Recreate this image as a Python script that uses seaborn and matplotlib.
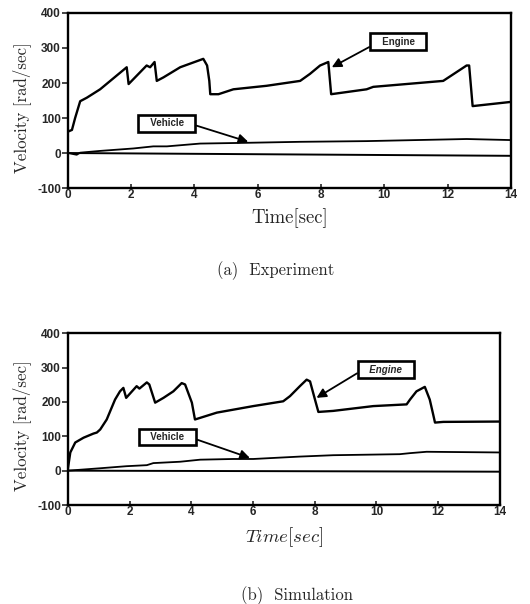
import matplotlib
matplotlib.use('Agg')
import matplotlib.pyplot as plt
import seaborn as sns
import pandas as pd

# (a) Experiment
exp_engine_t = [0, 0.13, 0.23, 0.39, 0.6, 1.02, 1.86, 1.92, 2.49, 2.6, 2.74, 2.81, 3.02, 3.55,
                4.28, 4.4, 4.47, 4.5, 4.76, 5.23, 6.28, 7.34, 7.65, 7.97, 8.23, 8.32, 9.44,
                9.65, 11.86, 12.6, 12.68, 12.79, 14]
exp_engine = [61, 66, 100, 148, 158, 182, 245, 197, 250, 245, 260, 206, 216, 245,
              269, 250, 206, 168, 168, 182, 192, 206, 226, 250, 260, 168, 182,
              189, 206, 250, 250, 134, 146]
exp_vehicle_t = [0, 0.28, 0.39, 1.02, 2.07, 2.7, 3.13, 4.18, 5.55, 7.34, 9.44, 12.6, 14]
exp_vehicle = [0, -5, 1, 6, 13, 19, 19, 27, 29, 32, 34, 40, 37]
exp_zero_t = [0, 14]
exp_zero = [0, -8]

# (b) Simulation
sim_engine_t = [0, 0.08, 0.24, 0.51, 0.83, 0.94, 1.05, 1.26, 1.53, 1.69, 1.8, 1.89, 2.23, 2.32,
                2.56, 2.64, 2.83, 3.1, 3.42, 3.69, 3.8, 4.02, 4.12, 4.83, 6.01, 6.98, 7.2,
                7.52, 7.74, 7.85, 8.01, 8.12, 8.6, 9.9, 10.98, 11.09, 11.3, 11.57, 11.73,
                11.84, 11.9, 12.17, 14]
sim_engine = [5, 53, 82, 96, 108, 111, 120, 149, 207, 231, 241, 212, 246, 239,
              257, 251, 198, 212, 231, 255, 251, 198, 149, 169, 188, 202, 217,
              246, 265, 260, 207, 171, 174, 188, 193, 207, 231, 244, 207,
              164, 140, 142, 143]
sim_vehicle_t = [0, 1.05, 1.9, 2.56, 2.77, 3.64, 4.29, 5.36, 6.01, 7.52, 8.6, 10.76, 11.09,
                 11.63, 14]
sim_vehicle = [0, 7, 13, 16, 22, 26, 32, 34, 34, 41, 45, 48, 51, 55, 53]
sim_zero_t = [0, 14]
sim_zero = [0, -3]

y_ticks = [-100, 0, 100, 200, 300, 400]
x_ticks = [0, 2, 4, 6, 8, 10, 12, 14]

sns.set_style('white')
plt.rcParams['mathtext.fontset'] = 'cm'
plt.rcParams['axes.unicode_minus'] = False

fig = plt.figure(figsize=(5.3, 6.04), dpi=100)
ax_top = fig.add_axes([0.128, 0.6887, 0.836, 0.2898])
ax_bot = fig.add_axes([0.128, 0.1639, 0.815, 0.2843])

tick_font = dict(family='Liberation Sans', weight='bold', size=8.5)
label_font = dict(family='cmr10', size=12.2)
box_props = dict(boxstyle='square,pad=0.35', fc='white', ec='black', lw=1.9)
arrow_props = dict(arrowstyle='-|>', color='black', lw=1.3, mutation_scale=14,
                   shrinkA=0, shrinkB=0)


def draw_panel(ax, eng_t, eng, veh_t, veh, zero_t, zero, xlabel, ax_w):
    sns.lineplot(x=eng_t, y=eng, ax=ax, color='black', lw=1.7, sort=False, estimator=None)
    sns.lineplot(x=veh_t, y=veh, ax=ax, color='black', lw=1.3, sort=False, estimator=None)
    sns.lineplot(x=zero_t, y=zero, ax=ax, color='black', lw=1.4, sort=False, estimator=None)
    ax.set_xlim(0, 14)
    ax.set_ylim(-100, 400)
    ax.set_xticks(x_ticks)
    ax.set_yticks(y_ticks)
    ax.set_xticklabels([str(t) for t in x_ticks], fontdict=tick_font)
    ax.set_yticklabels([str(t) for t in y_ticks], fontdict=tick_font)
    ax.tick_params(axis='y', direction='out', length=4, width=1.2, pad=1, left=True)
    ax.tick_params(axis='x', direction='in', length=3, width=1.2, pad=1, bottom=True)
    for s in ax.spines.values():
        s.set_linewidth(1.7)
        s.set_color('black')
    ax.set_ylabel('Velocity [rad/sec]', fontdict=label_font)
    ax.yaxis.set_label_coords(-37 / ax_w, 0.46)
    ax.set_xlabel(xlabel, fontsize=13.5, labelpad=5)


draw_panel(ax_top, exp_engine_t, exp_engine, exp_vehicle_t, exp_vehicle,
           exp_zero_t, exp_zero, 'Time[sec]', 443)
ax_top.xaxis.label.set_family('cmr10')
draw_panel(ax_bot, sim_engine_t, sim_engine, sim_vehicle_t, sim_vehicle,
           sim_zero_t, sim_zero, r'$Time[sec]$', 432)

# labels with arrows
ax_top.annotate('   Engine   ', xy=(8.34, 245), xytext=(10.44, 318), ha='center', va='center',
                fontsize=7, fontweight='bold', family='Liberation Sans', bbox=box_props,
                arrowprops=dict(arrow_props, relpos=(0, 0.2)))
ax_top.annotate('   Vehicle   ', xy=(5.7, 32), xytext=(3.13, 85), ha='center', va='center',
                fontsize=7, fontweight='bold', family='Liberation Sans', bbox=box_props,
                arrowprops=dict(arrow_props, relpos=(1, 0.4)))
ax_bot.annotate('   Engine   ', xy=(8.06, 212), xytext=(10.31, 294), ha='center', va='center',
                fontsize=7, fontweight='bold', fontstyle='italic', family='Liberation Sans',
                bbox=box_props, arrowprops=dict(arrow_props, relpos=(0, 0.4)))
ax_bot.annotate('   Vehicle   ', xy=(5.9, 37), xytext=(3.22, 98), ha='center', va='center',
                fontsize=7, fontweight='bold', family='Liberation Sans', bbox=box_props,
                arrowprops=dict(arrow_props, relpos=(1, 0.4)))

fig.text(276 / 530, 1 - 271 / 604, '(a)  Experiment', family='cmr10', fontsize=12,
         ha='center', va='center')
fig.text(297 / 530, 1 - 596 / 604, '(b)  Simulation', family='cmr10', fontsize=12,
         ha='center', va='center')

fig.savefig('out.png', dpi=100)
